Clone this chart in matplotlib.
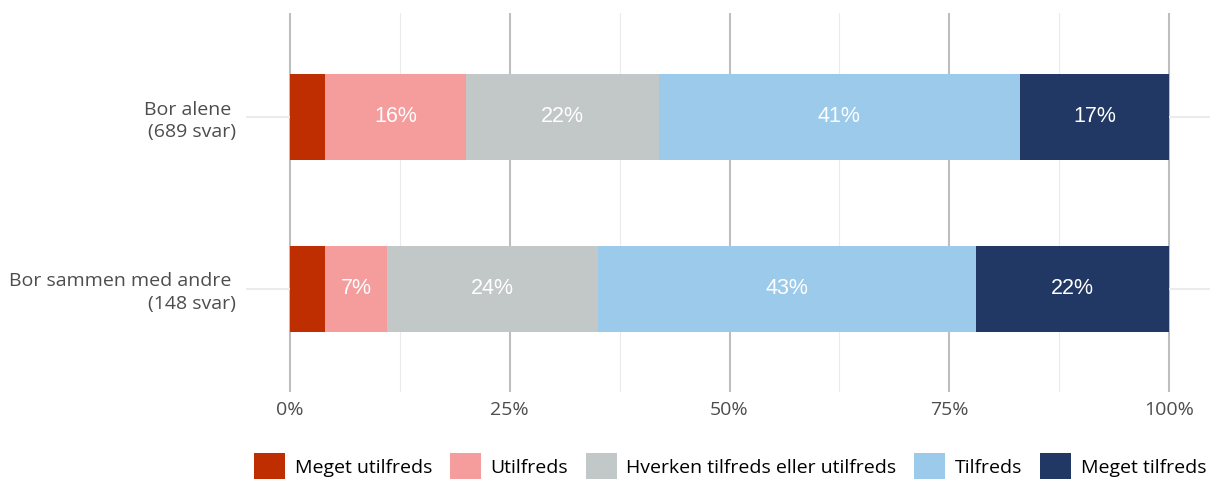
import numpy as np
import matplotlib.pyplot as plt
from matplotlib.patches import Patch

# data
groups = ["Bor alene \n(689 svar)", "Bor sammen med andre \n(148 svar)"]
categories = ["Meget utilfreds", "Utilfreds", "Hverken tilfreds eller utilfreds",
              "Tilfreds", "Meget tilfreds"]
alene = [4, 16, 22, 41, 17]
sammen = [4, 7, 24, 43, 22]
colors = ["#bf2e00", "#f59c9c", "#c1c8c7", "#9bcaeb", "#213864"]
xticks = [0, 25, 50, 75, 100]
xticklabels = ["0%", "25%", "50%", "75%", "100%"]

values = np.array([alene, sammen])
ypos = np.array([2, 1])

fig = plt.figure(figsize=(12.1, 4.79), dpi=100)
ax = fig.add_axes([246 / 1210, 1 - 391.7 / 479, 967 / 1210, 378.4 / 479])

left = np.zeros(len(groups))
for j, cat in enumerate(categories):
    ax.barh(ypos, values[:, j], left=left, height=0.5, color=colors[j], zorder=3)
    for i in range(len(groups)):
        v = values[i, j]
        if v >= 5:
            ax.text(left[i] + v / 2, ypos[i], f"{v}%", ha="center", va="center",
                    color="white", fontsize=15.5, family="Liberation Sans", zorder=4)
    left = left + values[:, j]

ax.set_xlim(-5, 105)
ax.set_ylim(0.4, 2.6)
ax.set_xticks(xticks)
ax.set_xticklabels(xticklabels)
ax.set_xticks([12.5, 37.5, 62.5, 87.5], minor=True)
ax.set_yticks(ypos)
ax.set_yticklabels(groups)
for lbl in ax.get_yticklabels():
    lbl.set_horizontalalignment("right")
    lbl.set_multialignment("right")
    lbl.set_linespacing(1.3)
ax.tick_params(axis="both", which="both", length=0)
ax.tick_params(axis="x", pad=7, labelsize=14, labelcolor="#4d4d4d")
ax.tick_params(axis="y", pad=7, labelsize=14, labelcolor="#4d4d4d")
for lbl in ax.get_xticklabels() + ax.get_yticklabels():
    lbl.set_family("Open Sans")

ax.grid(axis="x", which="major", color="#bebebe", linewidth=1.5, zorder=0)
ax.grid(axis="x", which="minor", color="#ebebeb", linewidth=0.8, zorder=0)
ax.grid(axis="y", which="major", color="#ebebeb", linewidth=1.5, zorder=0)
for s in ax.spines.values():
    s.set_visible(False)

handles = [Patch(facecolor=c, label=l) for c, l in zip(colors, categories)]
fig.legend(handles=handles, loc="lower center", bbox_to_anchor=(730 / 1210, 0),
           ncol=5, frameon=False, prop={"family": "Open Sans", "size": 14},
           handlelength=1.6, handleheight=1.65, handletextpad=0.5,
           columnspacing=0.9, borderaxespad=0, borderpad=0)

fig.savefig("out.png", dpi=100)
